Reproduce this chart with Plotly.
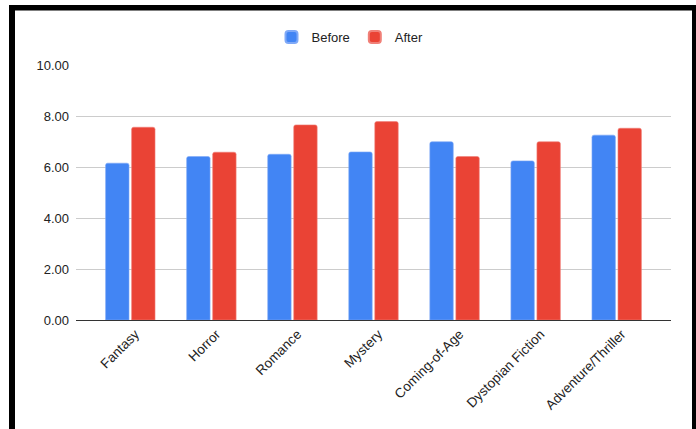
import plotly.graph_objects as go

categories = ["Fantasy", "Horror", "Romance", "Mystery", "Coming-of-Age",
              "Dystopian Fiction", "Adventure/Thriller"]
before = [6.15, 6.41, 6.50, 6.59, 6.99, 6.24, 7.25]
after = [7.56, 6.58, 7.65, 7.78, 6.41, 6.99, 7.52]
y_ticks = [0, 2, 4, 6, 8, 10]
y_tick_labels = ["0.00", "2.00", "4.00", "6.00", "8.00", "10.00"]

W, H = 696, 429
L, R, T, B = 76, 25, 65, 109
pw, ph = W - L - R, H - T - B

def px_x(p):
    return (p - L) / pw

def px_y(p):
    return (H - B - p) / ph

fig = go.Figure()
fig.add_trace(go.Bar(name="Before", x=categories, y=before,
                     marker=dict(color="#4285F4", cornerradius=2,
                                 line=dict(color="#7FA9F7", width=0.6))))
fig.add_trace(go.Bar(name="After", x=categories, y=after,
                     marker=dict(color="#EA4335", cornerradius=2,
                                 line=dict(color="#F08078", width=0.6))))

font = "Liberation Sans, Arial, sans-serif"
shapes = [
    dict(type="rect", xref="paper", yref="paper", x0=px_x(9), x1=px_x(700),
         y0=px_y(10.5), y1=px_y(5), fillcolor="black", line=dict(width=0), layer="above"),
    dict(type="rect", xref="paper", yref="paper", x0=px_x(9), x1=px_x(15),
         y0=px_y(435), y1=px_y(5), fillcolor="black", line=dict(width=0), layer="above"),
    dict(type="rect", xref="paper", yref="paper", x0=px_x(692), x1=px_x(700),
         y0=px_y(435), y1=px_y(5), fillcolor="black", line=dict(width=0), layer="above"),
]

fig.update_layout(
    width=W, height=H,
    margin=dict(l=L, r=R, t=T, b=B, pad=0),
    paper_bgcolor="white", plot_bgcolor="white",
    barmode="group", bargap=0.358, bargroupgap=0.10,
    font=dict(family=font, size=12, color="#222222"),
    showlegend=True,
    legend=dict(orientation="h", x=px_x(350), xanchor="center",
                y=px_y(37), yanchor="middle",
                font=dict(size=13, color="#222222"),
                itemsizing="constant"),
    shapes=shapes,
    xaxis=dict(range=[-0.67, 6.67], tickangle=-45, showgrid=False,
               showline=True, linecolor="#333333", linewidth=1,
               ticks="", tickfont=dict(size=13.5, color="#222222"),
               ticklabelshift=5,
               zeroline=False, fixedrange=True),
    yaxis=dict(range=[0, 10], tickvals=y_ticks, ticktext=y_tick_labels,
               showgrid=True, gridcolor="#CCCCCC", gridwidth=1,
               zeroline=False, showline=False, ticks="",
               ticklabelstandoff=6,
               tickfont=dict(size=13, color="#222222"), fixedrange=True),
)

fig.write_html("out.html",
               config={"displayModeBar": False},
               post_script="document.body.style.margin='0';document.body.style.overflow='hidden';")
